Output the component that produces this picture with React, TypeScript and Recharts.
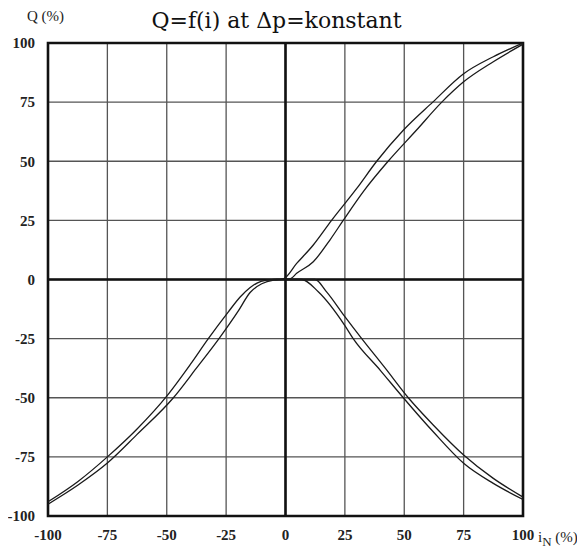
import { LineChart, Line, XAxis, YAxis, CartesianGrid, ReferenceLine, ReferenceArea } from "recharts"

// tick positions, both axes in %
const axisTicks = [-100, -75, -50, -25, 0, 25, 50, 75, 100]

// rising curve, left edge of the hysteresis band [i, Q]
const riseLeft = [
  [-100, -94], [-87.5, -85.5], [-75, -75], [-62.5, -63.2], [-50, -49.3],
  [-40, -35.8], [-32.5, -25], [-24.3, -14], [-19, -7.3], [-15, -3.5], [-12, -1.5],
  [-8, -0.3], [-5, 0], [-1, 0.3], [4.7, 6.8], [11.7, 14.6], [19.4, 25], [30, 38.5],
  [38.4, 50], [49.5, 63], [62, 75], [75, 87], [87.5, 94.2], [100, 100],
]

// rising curve, right edge
const riseRight = [
  [-100, -95], [-87.5, -87], [-75, -77.6], [-62.5, -65.5], [-47.2, -50],
  [-37.5, -37.5], [-28, -25], [-20, -13.5], [-14.9, -5.5], [-10, -1.8], [-5, -0.3],
  [-1, 0], [2, 0.3], [4.7, 2.6], [11.7, 7.5], [18.7, 16.7], [24.3, 25], [33, 37.5],
  [43.2, 50], [55, 63], [65.8, 75], [75, 83.6], [87.5, 92.1], [100, 99.5],
]

// falling curve, inner edge
const fallInner = [
  [0, 0], [6.8, 0], [13.8, -5.2], [25, -19.5], [28.5, -25], [40, -38.5],
  [49.6, -50], [62.2, -64.4], [75, -77.7], [87.5, -86.2], [100, -93],
]

// falling curve, outer edge
const fallOuter = [
  [0, 0], [12.4, 0], [17.3, -5.2], [25, -15.7], [32.1, -25], [42, -37.5],
  [51.7, -50], [62.2, -61.5], [75, -74.2], [87.5, -84.1], [100, -92],
]

const toPoints = (rows: number[][]) => rows.map(([i, q]) => ({ i, q }))

const serif = "'Liberation Serif', serif"
const tickStyle = { fontSize: 15, fontFamily: serif, fontWeight: 700, fill: "#222" }

export default function App() {
  const curves = [riseLeft, riseRight, fallInner, fallOuter]

  return (
    <div style={{ position: "relative", width: 577, height: 541 }}>
      <div
        style={{
          position: "absolute",
          left: 0,
          width: 537,
          top: 2,
          textAlign: "center",
          fontFamily: "'DejaVu Serif', serif",
          fontSize: 22,
          lineHeight: 1,
          color: "#111",
        }}
      >
        Q=f(i) at Δp=konstant
      </div>
      <div
        style={{
          position: "absolute",
          left: 19,
          top: 1,
          fontFamily: serif,
          fontSize: 15,
          lineHeight: 1,
          color: "#222",
        }}
      >
        Q (%)
      </div>
      <div
        style={{
          position: "absolute",
          left: 530,
          top: 522,
          fontFamily: serif,
          fontSize: 15,
          lineHeight: 1,
          color: "#222",
          whiteSpace: "nowrap",
        }}
      >
        i<sub style={{ fontSize: 13 }}>N</sub>{" "}
        <span style={{ fontSize: 15 }}>(%)</span>
      </div>
      <LineChart width={577} height={541} margin={{ top: 35, right: 62, left: 0, bottom: 0 }}>
        <CartesianGrid stroke="#555" strokeWidth={1.3} />
        <XAxis
          dataKey="i"
          type="number"
          domain={[-100, 100]}
          ticks={axisTicks}
          height={33}
          axisLine={false}
          tickLine={false}
          tickSize={0}
          tickMargin={13}
          tick={tickStyle}
          allowDataOverflow
        />
        <YAxis
          dataKey="q"
          type="number"
          domain={[-100, 100]}
          ticks={axisTicks}
          width={40}
          axisLine={false}
          tickLine={false}
          tickSize={0}
          tickMargin={13}
          tick={tickStyle}
          allowDataOverflow
        />
        <ReferenceLine x={0} stroke="#111" strokeWidth={2.6} />
        <ReferenceLine y={0} stroke="#111" strokeWidth={2.6} />
        <ReferenceArea x1={-100} x2={100} y1={-100} y2={100} fill="none" stroke="#111" strokeWidth={2.6} />
        {curves.map((rows, idx) => (
          <Line
            key={idx}
            data={toPoints(rows)}
            dataKey="q"
            type="monotone"
            stroke="#1a1a1a"
            strokeWidth={1.3}
            dot={false}
            activeDot={false}
            isAnimationActive={false}
          />
        ))}
      </LineChart>
    </div>
  )
}
